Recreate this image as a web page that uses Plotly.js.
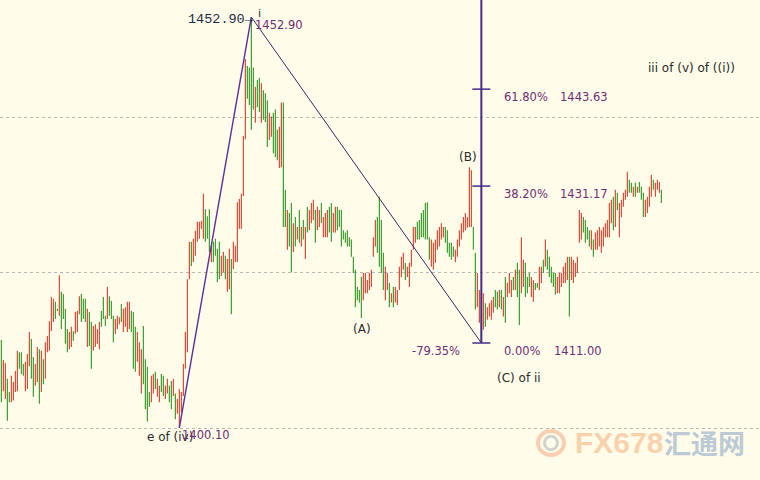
<!DOCTYPE html>
<html>
<head>
<meta charset="utf-8">
<script src="https://cdn.plot.ly/plotly-3.0.1.min.js"></script>
<style>html,body{margin:0;padding:0;background:#fffde9;}#chart{width:760px;height:480px;}</style>
</head>
<body>
<div id="chart"></div>
<script>
// ---- bar data (one bar per period) ----
const barHigh = [
1411.4,1408.8,1408.4,1406.4,1404.7,1406.8,1406.0,1407.4,1410.0,1409.8,1409.8,1408.3,1408.6,1409.6,1412.4,1411.5,1409.2,1408.3,1410.5,1410.2,
1410.0,1408.9,1411.1,1411.9,1413.8,1416.9,1416.7,1416.3,1415.4,1419.7,1417.6,1417.3,1415.4,1412.8,1412.4,1413.1,1412.5,1415.0,1415.1,1417.0,
1417.3,1416.7,1416.7,1415.4,1415.0,1413.7,1413.2,1413.4,1412.8,1413.7,1415.1,1416.9,1414.5,1418.2,1417.0,1416.4,1414.5,1414.1,1414.5,1414.3,
1416.0,1415.4,1415.6,1416.3,1416.3,1415.1,1415.0,1413.1,1412.4,1411.1,1410.2,1413.2,1408.9,1407.9,1404.7,1406.8,1407.0,1407.3,1406.4,1405.5,
1407.0,1406.8,1405.5,1406.4,1405.5,1406.1,1406.4,1404.5,1403.8,1405.1,1404.7,1408.3,1412.4,1419.2,1424.0,1424.0,1424.4,1425.4,1426.6,1426.6,
1426.7,1430.2,1428.2,1427.3,1428.2,1423.5,1424.0,1424.4,1423.1,1424.0,1422.2,1422.7,1422.2,1421.8,1423.1,1421.8,1424.0,1423.5,1429.1,1429.5,
1430.2,1437.6,1447.5,1446.6,1446.4,1452.9,1446.4,1443.9,1444.8,1445.1,1444.4,1443.5,1443.1,1442.2,1440.6,1440.1,1440.6,1441.0,1438.4,1438.8,
1441.9,1441.9,1430.7,1428.1,1427.7,1429.0,1426.4,1427.2,1425.9,1428.1,1425.9,1426.8,1425.9,1428.5,1428.1,1429.0,1429.4,1428.1,1428.5,1428.1,
1429.0,1427.2,1427.7,1428.1,1428.5,1429.0,1427.7,1428.5,1428.5,1428.1,1428.1,1425.5,1425.2,1425.5,1424.6,1424.3,1422.1,1420.4,1418.2,1417.8,
1419.5,1420.0,1420.0,1419.1,1420.0,1420.4,1424.6,1426.8,1427.2,1429.8,1426.8,1422.6,1420.8,1420.0,1418.7,1417.4,1418.2,1418.2,1417.8,1420.8,
1422.1,1422.6,1421.3,1420.8,1421.3,1423.0,1425.9,1425.9,1426.6,1426.8,1427.7,1428.1,1429.0,1429.1,1424.6,1424.3,1423.9,1424.3,1425.5,1425.9,
1426.4,1425.9,1425.9,1425.5,1423.9,1423.9,1423.4,1423.0,1424.3,1425.5,1426.4,1427.2,1427.7,1427.2,1433.6,1433.2,1425.9,1422.6,1420.0,1417.8,
1417.4,1417.4,1416.1,1415.6,1416.1,1416.5,1416.9,1417.8,1417.6,1417.8,1417.8,1416.9,1419.5,1418.7,1420.0,1419.1,1419.5,1420.4,1421.3,1420.4,
1424.6,1421.7,1421.3,1419.5,1420.0,1419.5,1419.1,1418.7,1418.7,1420.8,1420.8,1421.7,1424.3,1423.0,1422.1,1420.8,1420.0,1420.0,1419.5,1420.0,
1420.0,1420.8,1421.3,1422.1,1422.1,1422.1,1421.7,1421.3,1422.1,1428.1,1427.7,1427.2,1426.8,1425.9,1425.5,1425.5,1424.3,1425.2,1425.5,1425.9,
1425.5,1425.9,1426.4,1426.8,1429.0,1429.4,1429.8,1430.7,1430.3,1429.0,1429.4,1430.3,1430.7,1433.0,1432.0,1431.6,1431.1,1431.6,1431.1,1431.7,
1431.1,1430.3,1429.4,1429.8,1431.1,1432.6,1432.0,1431.6,1432.0,1431.7,1430.7
];
const barLow = [
1403.4,1404.8,1403.8,1401.0,1403.4,1403.4,1403.6,1404.7,1404.8,1407.7,1407.0,1406.8,1404.8,1405.1,1408.0,1406.4,1404.1,1405.5,1406.0,1403.2,
1404.7,1405.7,1406.4,1409.8,1410.0,1412.5,1413.7,1414.1,1415.1,1414.5,1412.8,1414.1,1410.9,1409.8,1410.2,1410.5,1411.3,1412.2,1412.4,1414.7,
1413.7,1414.1,1413.7,1410.5,1410.6,1407.7,1410.0,1410.5,1410.9,1410.2,1413.1,1414.1,1413.2,1414.1,1414.5,1414.1,1411.1,1412.2,1412.8,1413.4,
1413.7,1412.4,1413.1,1412.4,1412.8,1412.4,1407.7,1407.3,1408.6,1406.8,1404.5,1405.7,1402.5,1400.9,1402.8,1403.4,1404.5,1405.1,1404.1,1403.4,
1404.7,1404.2,1403.8,1404.5,1403.4,1402.5,1404.2,1401.2,1401.9,1400.1,1402.1,1404.2,1407.7,1409.8,1419.2,1420.9,1421.4,1422.2,1424.0,1424.4,
1425.7,1424.4,1424.0,1424.4,1422.7,1421.4,1421.4,1422.2,1418.8,1419.2,1419.6,1420.1,1419.2,1417.6,1417.9,1414.7,1420.5,1421.4,1421.4,1425.7,
1425.7,1429.9,1437.2,1442.4,1441.6,1438.4,1441.0,1439.3,1441.3,1440.7,1439.3,1439.7,1439.4,1436.2,1437.1,1437.5,1435.4,1434.9,1434.5,1433.5,
1433.6,1425.9,1425.9,1423.0,1423.4,1420.1,1422.7,1423.4,1424.3,1423.9,1423.4,1424.3,1421.8,1425.2,1425.5,1426.4,1426.8,1423.9,1425.5,1425.9,
1426.4,1424.6,1424.6,1424.6,1425.2,1424.0,1425.2,1425.2,1425.5,1425.9,1423.4,1424.3,1423.9,1423.4,1423.4,1422.1,1420.0,1415.6,1416.5,1416.2,
1414.2,1416.5,1417.4,1417.4,1417.8,1418.2,1422.1,1423.4,1422.6,1420.8,1420.0,1417.8,1416.5,1417.8,1415.6,1416.2,1415.6,1416.2,1415.9,1417.8,
1419.5,1420.4,1419.1,1419.5,1418.2,1420.8,1423.0,1423.9,1424.3,1424.3,1424.6,1424.6,1424.3,1424.3,1421.7,1420.8,1420.4,1421.3,1423.0,1423.4,
1424.3,1424.6,1423.9,1422.6,1422.1,1421.7,1422.1,1421.4,1422.1,1423.4,1424.3,1425.2,1425.5,1425.8,1425.9,1425.9,1423.0,1415.3,1415.6,1413.6,
1411.0,1412.7,1413.1,1414.0,1414.4,1414.0,1414.9,1415.6,1415.3,1415.6,1415.3,1414.4,1413.6,1416.9,1417.4,1416.9,1417.8,1417.8,1416.9,1413.3,
1417.4,1418.2,1416.9,1417.4,1418.2,1416.9,1416.3,1417.8,1418.1,1417.8,1418.7,1420.0,1420.8,1420.4,1419.5,1418.7,1418.2,1417.2,1417.4,1417.4,
1418.2,1418.7,1418.7,1419.1,1414.4,1419.1,1418.7,1419.5,1420.0,1423.9,1424.3,1425.2,1423.9,1424.3,1423.4,1423.0,1422.1,1423.0,1423.0,1423.4,
1422.6,1423.4,1424.6,1424.6,1424.6,1426.4,1425.5,1425.9,1428.1,1424.6,1427.2,1428.5,1429.4,1429.8,1430.3,1430.3,1429.8,1429.8,1430.3,1430.3,
1429.4,1427.2,1427.2,1427.7,1428.5,1429.8,1430.7,1429.8,1430.7,1430.3,1429.0
];
// u = rising bar (red), d = falling bar (green)
const barDir = (
"duudd"+"uuuud"+"dduuu"+"dduud"+
"uduuu"+"uuddu"+"ddddu"+"uduuu"+
"dddud"+"duuuu"+"dddud"+"dduuu"+
"duuuu"+"ddduu"+"udddd"+"uuduu"+
"dduud"+"duduu"+"uuuuu"+"duuuu"+
"uuddd"+"udddd"+"uuduu"+"duuuu"+
"uuudd"+"ddudd"+"udddu"+"udddu"+
"uddud"+"dudud"+"ududu"+"uuduu"+
"duuud"+"duudd"+"ddddd"+"ddddd"+
"duuuu"+"uuudd"+"dduud"+"uduuu"+
"uuduu"+"uuudd"+"ddddd"+"uuuuu"+
"uuddd"+"dduuu"+"uuuuu"+"udduu"+
"duduu"+"uuddu"+"duduu"+"ududd"+
"uuddd"+"uuddu"+"ududd"+"ddduu"+
"uuuud"+"uuuuu"+"udddd"+"uduuu"+
"uuuuu"+"ududu"+"uuuud"+"dudud"+
"dduuu"+"uduuu"+"d").split("");

// ---- Elliott wave pivots ----
const waveIdx   = [89, 125, 240];
const wavePrice = [1400.10, 1452.90, 1411.00];

// ---- Fibonacci tool ----
const fibRatios = ["61.80%", "38.20%", "0.00%"];
const fibLevels = [1443.63, 1431.17, 1411.00];
const fibExt = "-79.35%";

// ---- axes ----
const yRange = [1393.39, 1455.09];
const xRange = [-0.67, 379.33];
const gridLevels = [1400, 1420, 1440];

const n = barHigh.length;
const up = {x:[],o:[],h:[],l:[],c:[]}, dn = {x:[],o:[],h:[],l:[],c:[]};
for (let i = 0; i < n; i++) {
  const d = barDir[i] === "u";
  const t = d ? up : dn;
  t.x.push(i); t.h.push(barHigh[i]); t.l.push(barLow[i]);
  t.o.push(d ? barLow[i] : barHigh[i]); t.c.push(d ? barHigh[i] : barLow[i]);
}
const RED = "#d23c28", GREEN = "#2a9420";
function ohlc(t, col) {
  return {type:"ohlc", x:t.x, open:t.o, high:t.h, low:t.l, close:t.c, tickwidth:0,
    increasing:{line:{color:col,width:1.1}}, decreasing:{line:{color:col,width:1.1}},
    hoverinfo:"skip", showlegend:false};
}
const traces = [
  ohlc(up, RED), ohlc(dn, GREEN),
  {type:"scatter", mode:"lines", x:waveIdx.slice(0,2), y:wavePrice.slice(0,2),
   line:{color:"#5b2ea0", width:1.4}, hoverinfo:"skip", showlegend:false},
  {type:"scatter", mode:"lines", x:waveIdx.slice(1,3), y:wavePrice.slice(1,3),
   line:{color:"#3b2468", width:1}, hoverinfo:"skip", showlegend:false}
];

const PURPLE = "#6e2c74", DARK = "#2a2a2a", F = "DejaVu Sans, Verdana, sans-serif";
const cIdx = waveIdx[2];
const shapes = [
  {type:"line", xref:"x", yref:"y", x0:cIdx, x1:cIdx, y0:wavePrice[2], y1:yRange[1],
   line:{color:"#4a2a8c", width:2}}
];
fibLevels.forEach(v => shapes.push({type:"line", xref:"x", yref:"y", x0:cIdx-4.5, x1:cIdx+4.5, y0:v, y1:v,
   line:{color:"#4a2a8c", width:1.5}}));
// watermark logo
shapes.push({type:"circle", xref:"paper", yref:"paper", x0:0.7079, x1:0.7421, y0:0.052, y1:0.102,
   line:{color:"rgba(240,150,110,0.45)", width:4}});
shapes.push({type:"circle", xref:"paper", yref:"paper", x0:0.7165, x1:0.7335, y0:0.063, y1:0.091,
   line:{color:"rgba(150,160,175,0.45)", width:3}});

const ann = [];
function A(o){ ann.push(Object.assign({showarrow:false, font:{family:F, size:12, color:DARK}}, o)); }
fibLevels.forEach((v, k) => {
  A({x:cIdx+10.3, y:v, yshift:-7.5, xanchor:"left", text:fibRatios[k], font:{family:F, size:11.5, color:PURPLE}});
  A({x:cIdx+(k===2?35.3:38.3), y:v, yshift:-7.5, xanchor:"left", text:v.toFixed(2), font:{family:F, size:11.5, color:PURPLE}});
});
A({x:cIdx-9.7, y:wavePrice[2], yshift:-7.5, xanchor:"right", text:fibExt, font:{family:F, size:11.5, color:PURPLE}});
// peak labels
A({x:waveIdx[1]+2.2, y:wavePrice[1], yshift:-2.5, xanchor:"right", text:wavePrice[1].toFixed(2)+"\u2192",
   font:{family:"Liberation Mono, DejaVu Sans Mono, monospace", size:13.5, color:"#1c2a48"}});
A({x:waveIdx[1]+4.2, y:wavePrice[1], yshift:4, xanchor:"center", text:"i", font:{family:F, size:11, color:DARK}});
A({x:waveIdx[1]+0.6, y:wavePrice[1], yshift:-7.5, xanchor:"left", text:wavePrice[1].toFixed(2), font:{family:F, size:11.5, color:PURPLE}});
// low labels
A({x:waveIdx[0]-4.7, y:wavePrice[0], yshift:-9, xanchor:"center", text:"e of (iv)"});
A({x:waveIdx[0]+0.3, y:wavePrice[0], yshift:-7, xanchor:"left", text:wavePrice[0].toFixed(2), font:{family:F, size:11.5, color:PURPLE}});
// wave labels
A({x:180.3, y:1412.8, text:"(A)"});
A({x:233.3, y:1434.9, text:"(B)"});
A({x:258.8, y:1406.5, text:"(C) of ii"});
A({x:345.3, y:1446.35, text:"iii of (v) of ((i))"});
// watermark text
A({xref:"paper", yref:"paper", x:0.8145, y:0.0771, xanchor:"center", yanchor:"middle", text:"<b>FX678</b>",
   font:{family:"Liberation Sans, Arial, sans-serif", size:30, color:"#f9d2ad"}});
A({xref:"paper", yref:"paper", x:0.927, y:0.0771, xanchor:"center", yanchor:"middle", text:"<b>汇通网</b>",
   font:{family:"Noto Sans CJK SC, sans-serif", size:27, color:"#bccad6"}});

const layout = {
  width:760, height:480, margin:{l:0, r:0, t:0, b:0},
  paper_bgcolor:"#fffde9", plot_bgcolor:"#fffde9",
  showlegend:false, dragmode:false,
  xaxis:{range:xRange, visible:false, rangeslider:{visible:false}, fixedrange:true},
  yaxis:{range:yRange, tickvals:gridLevels, showticklabels:false, ticks:"", showgrid:true,
         gridcolor:"#b8b8b0", griddash:"dot", gridwidth:1, zeroline:false, showline:false, fixedrange:true},
  shapes:shapes, annotations:ann
};
Plotly.newPlot("chart", traces, layout, {staticPlot:true, displayModeBar:false});
</script>
</body>
</html>
